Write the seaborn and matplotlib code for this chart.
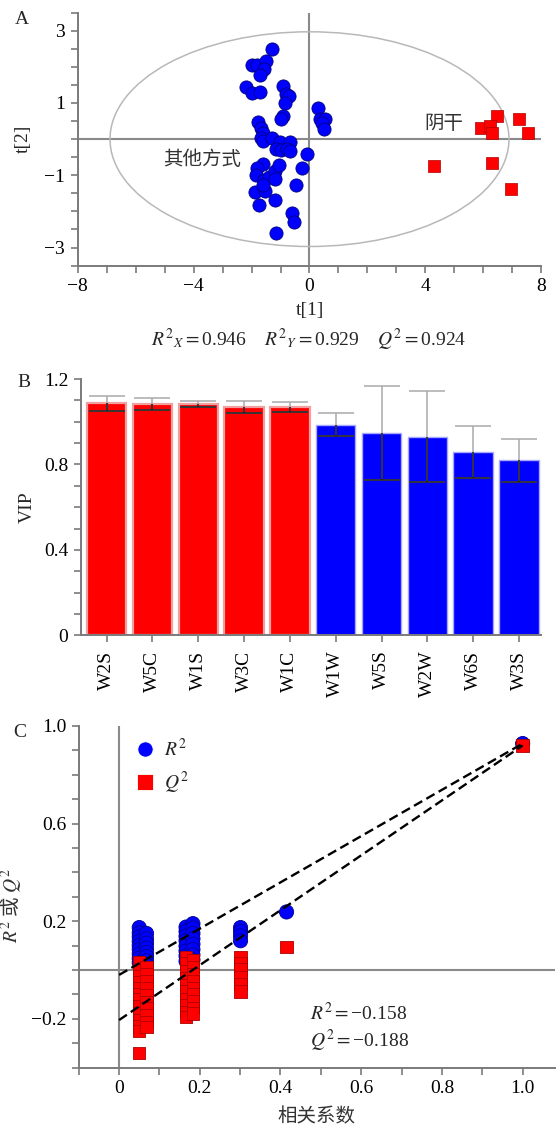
import numpy as np
import pandas as pd
import seaborn as sns
import matplotlib.pyplot as plt
from matplotlib.patches import Ellipse
from matplotlib.ticker import MultipleLocator, FixedLocator, FuncFormatter

# -----------------------------
# Panel A: score plot t[1] / t[2]
# -----------------------------
other_t1 = [-1.28, -2.00, -1.80, -1.51, -1.58, -1.72, -2.18, -1.97, -1.72, -0.91,
            -0.82, -0.71, -0.85, -0.90, -0.99, 0.28, 0.36, 0.53, 0.44, 0.50,
            -1.77, -1.68, -1.60, -1.69, -1.62, -1.28, -1.02, -0.68, -1.14, -0.99,
            -0.79, -0.68, -0.10, -1.62, -1.80, -1.83, -1.57, -1.39, -1.20, -1.05,
            -1.20, -0.25, -0.47, -1.89, -1.54, -1.74, -1.20, -0.59, -0.54, -1.14,
            -1.60]
other_t2 = [2.49, 2.04, 2.04, 2.15, 1.94, 1.78, 1.44, 1.27, 1.31, 1.47,
            1.24, 1.18, 0.99, 0.64, 0.57, 0.87, 0.57, 0.57, 0.45, 0.28,
            0.48, 0.31, 0.16, 0.04, -0.06, 0.02, -0.07, -0.07, -0.26, -0.31,
            -0.28, -0.32, -0.40, -0.68, -0.81, -1.00, -1.14, -1.05, -0.88, -0.72,
            -1.11, -0.81, -1.28, -1.46, -1.44, -1.81, -1.69, -2.05, -2.30, -2.60,
            -1.28]
shade_t1 = [6.46, 7.24, 5.91, 6.23, 6.31, 7.55, 4.31, 6.29, 6.95]
shade_t2 = [0.64, 0.57, 0.30, 0.37, 0.16, 0.16, -0.75, -0.66, -1.37]
model_stats = {"R2X": "0.946", "R2Y": "0.929", "Q2": "0.924"}

# -----------------------------
# Panel B: VIP
# -----------------------------
vip_sensors = ["W2S", "W5C", "W1S", "W3C", "W1C", "W1W", "W5S", "W2W", "W6S", "W3S"]
vip_values = [1.086, 1.084, 1.083, 1.069, 1.069, 0.986, 0.947, 0.930, 0.860, 0.819]
vip_errors = [0.034, 0.027, 0.013, 0.030, 0.022, 0.053, 0.218, 0.212, 0.122, 0.099]
vip_groups = ["high", "high", "high", "high", "high", "low", "low", "low", "low", "low"]

# -----------------------------
# Panel C: permutation test
# -----------------------------
r2_corr = [0.05] * 9 + [0.068] * 8 + [0.166] * 8 + [0.183] * 8 + [0.301] * 4 + [0.415, 1.0]
r2_vals = [0.174, 0.152, 0.136, 0.118, 0.101, 0.085, 0.066, 0.048, 0.030,
           0.150, 0.128, 0.110, 0.090, 0.072, 0.055, 0.038, 0.022,
           0.176, 0.158, 0.139, 0.120, 0.098, 0.078, 0.058, 0.036,
           0.190, 0.172, 0.150, 0.128, 0.106, 0.084, 0.062, 0.042,
           0.174, 0.158, 0.140, 0.120,
           0.238, 0.928]
q2_corr = [0.05] * 13 + [0.068] * 10 + [0.166] * 10 + [0.183] * 9 + [0.301] * 6 + [0.415, 1.0]
q2_vals = [0.033, 0.004, -0.024, -0.051, -0.076, -0.098, -0.121, -0.149, -0.176, -0.204, -0.232, -0.249, -0.340,
           0.012, -0.018, -0.046, -0.074, -0.103, -0.131, -0.157, -0.186, -0.212, -0.233,
           0.054, 0.026, -0.004, -0.033, -0.061, -0.088, -0.118, -0.146, -0.172, -0.192,
           0.042, 0.012, -0.018, -0.047, -0.074, -0.101, -0.128, -0.156, -0.178,
           0.054, 0.026, 0.002, -0.030, -0.058, -0.088,
           0.095, 0.920]
r2_line_x = [0.0, 1.0]
r2_line_y = [-0.020, 0.928]
q2_line_x = [0.0, 1.0]
q2_line_y = [-0.205, 0.920]
r2_intercept = "−0.158"
q2_intercept = "−0.188"

# -----------------------------
# style
# -----------------------------
sns.set_theme(style="white")
plt.rcParams["font.family"] = ["Liberation Serif", "Noto Sans CJK SC"]
plt.rcParams["mathtext.fontset"] = "stix"
plt.rcParams["axes.unicode_minus"] = True

RED = "#ff0000"
BLUE = "#0000ff"
AXIS_GREY = "#7a7a7a"
FS = 14


def style_axes(ax):
    for side in ["top", "right"]:
        ax.spines[side].set_visible(False)
    for side in ["left", "bottom"]:
        ax.spines[side].set_color(AXIS_GREY)
        ax.spines[side].set_linewidth(1.4)
    ax.tick_params(which="both", direction="out", length=5, width=1.2,
                   color=AXIS_GREY, labelsize=FS, labelcolor="black", pad=4,
                   bottom=True, left=True)


def num_fmt(v, _):
    if abs(v) < 1e-9:
        return "0"
    return f"{v:.1f}".replace("-", "\u2212")


fig = plt.figure(figsize=(5.57, 11.28), dpi=100)

# ---------- A ----------
axA = fig.add_axes([0.1395, 0.7645, 0.8323, 0.2243])
axA.axhline(0, color="#8a8a8a", lw=1.5, zorder=1)
axA.axvline(0, color="#8a8a8a", lw=1.5, zorder=1)
axA.add_patch(Ellipse((0, 0), 13.77, 5.94, fill=False, edgecolor="#b8b8b8", lw=1.1, zorder=1))

df_other = pd.DataFrame({"t1": other_t1, "t2": other_t2})
df_shade = pd.DataFrame({"t1": shade_t1, "t2": shade_t2})
sns.scatterplot(data=df_other, x="t1", y="t2", ax=axA, color=BLUE, marker="o",
                s=90, edgecolor="#00007a", linewidth=0.6, zorder=3)
sns.scatterplot(data=df_shade, x="t1", y="t2", ax=axA, color=RED, marker="s",
                s=64, edgecolor="#b00000", linewidth=0.5, zorder=3)

axA.text(-3.70, -0.56, "其他方式", fontsize=FS, color="#333333", ha="center", va="center",
         family=["Noto Sans CJK SC"])
axA.text(4.63, 0.44, "阴干", fontsize=FS, color="#333333", ha="center", va="center",
         family=["Noto Sans CJK SC"])

axA.set_xlim(-8, 8)
axA.set_ylim(-3.5, 3.5)
axA.xaxis.set_major_locator(MultipleLocator(4))
axA.xaxis.set_minor_locator(MultipleLocator(1))
axA.yaxis.set_major_locator(FixedLocator([-3, -1, 1, 3]))
axA.yaxis.set_minor_locator(MultipleLocator(0.5))
axA.xaxis.set_major_formatter(FuncFormatter(lambda v, _: f"{v:.0f}".replace("-", "\u2212")))
axA.yaxis.set_major_formatter(FuncFormatter(lambda v, _: f"{v:.0f}".replace("-", "\u2212")))
style_axes(axA)
axA.set_xlabel("t[1]", fontsize=FS)
axA.set_ylabel("t[2]", fontsize=FS)
axA.xaxis.set_label_coords(0.5, -0.145)
axA.yaxis.set_label_coords(-0.098, 0.5)

fig.text(0.555, 0.6986,
         rf"$R^{{2}}{{}}_{{X}}=${model_stats['R2X']}    "
         rf"$R^{{2}}{{}}_{{Y}}=${model_stats['R2Y']}    "
         rf"$Q^{{2}}=${model_stats['Q2']}",
         fontsize=FS, ha="center", va="center")

# ---------- B ----------
axB = fig.add_axes([0.1454, 0.4368, 0.8259, 0.2272])
df_vip = pd.DataFrame({"sensor": vip_sensors, "vip": vip_values, "group": vip_groups})
sns.barplot(data=df_vip, x="sensor", y="vip", hue="group", palette={"high": RED, "low": BLUE},
            dodge=False, width=0.86, saturation=1, legend=False, ax=axB, zorder=2)

bars = [p for p in axB.patches]
for p, g in zip(bars, vip_groups):
    if g == "high":
        p.set_edgecolor("#efa0a0")
        p.set_linewidth(1.6)
    else:
        p.set_edgecolor("#a8a8ff")
        p.set_linewidth(1.0)

for p, v, e in zip(bars, vip_values, vip_errors):
    cx = p.get_x() + p.get_width() / 2
    axB.errorbar(cx, v, yerr=e, color="#a9a9a9", lw=1.1, capsize=13, capthick=1.1, zorder=3)
    eb = axB.errorbar(cx, v, yerr=e, color="#1a1a1a", lw=1.1, capsize=13, capthick=1.1, zorder=4)
    for art in [eb.lines[0], *eb.lines[1], *eb.lines[2]]:
        if art is not None:
            art.set_clip_path(p)

axB.set_xlim(-0.56, 9.48)
axB.set_ylim(0, 1.2)
axB.yaxis.set_major_locator(MultipleLocator(0.4))
axB.yaxis.set_minor_locator(MultipleLocator(0.1))
axB.yaxis.set_major_formatter(FuncFormatter(num_fmt))
style_axes(axB)
axB.tick_params(axis="x", labelrotation=90, pad=6)
axB.set_xlabel("")
axB.set_ylabel("VIP", fontsize=FS)
axB.yaxis.set_label_coords(-0.098, 0.5)

# ---------- C ----------
axC = fig.add_axes([0.1413, 0.0535, 0.855, 0.3029])
axC.axhline(0, color="#8a8a8a", lw=1.5, zorder=1)
axC.axvline(0, color="#8a8a8a", lw=1.5, zorder=1)

df_perm = pd.concat([
    pd.DataFrame({"corr": r2_corr, "val": r2_vals, "stat": "$R^2$"}),
    pd.DataFrame({"corr": q2_corr, "val": q2_vals, "stat": "$Q^2$"}),
], ignore_index=True)
sns.scatterplot(data=df_perm, x="corr", y="val", hue="stat", style="stat", size="stat",
                palette={"$R^2$": BLUE, "$Q^2$": RED},
                markers={"$R^2$": "o", "$Q^2$": "s"},
                sizes={"$R^2$": 105, "$Q^2$": 80},
                linewidth=0.6, ax=axC, zorder=3)
edge_map = {"$R^2$": "#00008a", "$Q^2$": "#b00000"}
axC.collections[-1].set_edgecolor([edge_map[s] for s in df_perm["stat"]])

sns.lineplot(x=r2_line_x, y=r2_line_y, ax=axC, color="black", lw=1.7,
             linestyle=(0, (4, 2)), zorder=5)
sns.lineplot(x=q2_line_x, y=q2_line_y, ax=axC, color="black", lw=1.7,
             linestyle=(0, (4, 2)), zorder=5)

axC.text(0.473, -0.176, rf"$R^{{2}}=${r2_intercept}", fontsize=FS, ha="left", va="center")
axC.text(0.473, -0.289, rf"$Q^{{2}}=${q2_intercept}", fontsize=FS, ha="left", va="center")

handles, labels = axC.get_legend_handles_labels()
for h in handles:
    if hasattr(h, "set_markersize"):
        h.set_markersize(11)
axC.legend(handles=handles, labels=labels, loc="upper left", bbox_to_anchor=(0.09, 1.0),
           frameon=False, fontsize=FS, handlelength=1.2, handletextpad=0.4, labelspacing=0.5,
           borderaxespad=0.2)

axC.set_xlim(-0.1, 1.08)
axC.set_ylim(-0.4, 1.0)
axC.xaxis.set_major_locator(MultipleLocator(0.2))
axC.xaxis.set_minor_locator(MultipleLocator(0.1))
axC.yaxis.set_major_locator(FixedLocator([-0.2, 0.2, 0.6, 1.0]))
axC.yaxis.set_minor_locator(MultipleLocator(0.1))
axC.xaxis.set_major_formatter(FuncFormatter(num_fmt))
axC.yaxis.set_major_formatter(FuncFormatter(num_fmt))
style_axes(axC)
axC.set_xlabel("相关系数", fontsize=FS, color="#333333", family=["Noto Sans CJK SC"])
axC.set_ylabel("$R^2$ 或 $Q^2$", fontsize=FS, color="#333333", family=["Noto Sans CJK SC"])
axC.xaxis.set_label_coords(0.5, -0.112)
axC.yaxis.set_label_coords(-0.115, 0.473)

# panel letters
fig.text(0.0395, 0.9823, "A", fontsize=FS, ha="center", va="center")
fig.text(0.043, 0.6605, "B", fontsize=FS, ha="center", va="center")
fig.text(0.036, 0.351, "C", fontsize=FS, ha="center", va="center")

fig.savefig("out.png", dpi=100)
